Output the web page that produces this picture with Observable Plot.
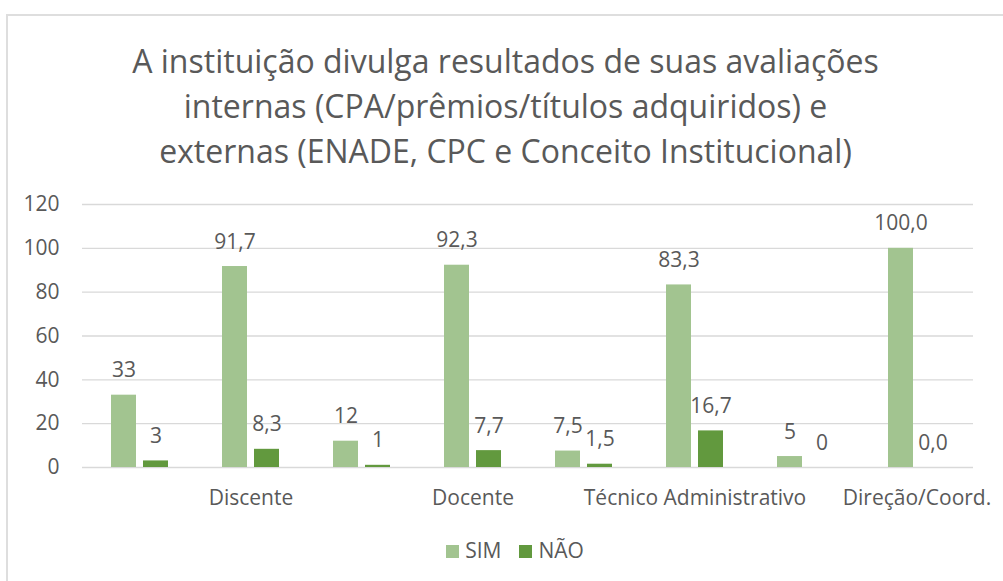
<!DOCTYPE html>
<html>
<head>
<meta charset="utf-8">
<script src="https://cdn.jsdelivr.net/npm/d3@7"></script>
<script src="https://cdn.jsdelivr.net/npm/@observablehq/plot@0.6"></script>
<style>
  html, body { margin: 0; padding: 0; background: #fff; overflow: hidden; }
  body { width: 1003px; height: 581px; position: relative; font-family: "Open Sans", sans-serif; color: #595959; }
  #frame { position: absolute; left: 6px; top: 14px; width: 1100px; height: 700px; border-left: 2px solid #dedede; border-top: 2px solid #dedede; }
  #title { position: absolute; left: 0; top: 38px; width: 1011px; text-align: center; font-size: 32px; line-height: 45px; }
  .layer { position: absolute; left: 0; top: 185px; }
  #legend { position: absolute; left: 0; top: 540px; width: 1030px; display: flex; justify-content: center; gap: 18px; font-size: 21px; line-height: 21px; }
  .item { display: flex; align-items: center; gap: 6px; }
  .sw { width: 13px; height: 13px; display: inline-block; position: relative; top: 1px; }
</style>
</head>
<body>
<div id="frame"></div>
<div id="title">A instituição divulga resultados de suas avaliações<br>internas (CPA/prêmios/títulos adquiridos) e<br>externas (ENADE, CPC e Conceito Institucional)</div>
<div id="bg" class="layer"></div>
<div id="fg" class="layer"></div>
<div id="legend"></div>
<script>
// ---- data ----
const categoryLabels = ["", "Discente", "", "Docente", "", "Técnico Administrativo", "", "Direção/Coord."];
const series = ["SIM", "NÃO"];
const simValues = [33, 91.7, 12, 92.3, 7.5, 83.3, 5, 100.0];
const naoValues = [3, 8.3, 1, 7.7, 1.5, 16.7, 0, 0.0];
const simLabels = ["33", "91,7", "12", "92,3", "7,5", "83,3", "5", "100,0"];
const naoLabels = ["3", "8,3", "1", "7,7", "1,5", "16,7", "0", "0,0"];
const yTicks = [0, 20, 40, 60, 80, 100, 120];
const colors = ["#a2c490", "#62993e"];

const rows = [];
categoryLabels.forEach((_, i) => {
  rows.push({cat: i, series: "SIM", value: simValues[i], label: simLabels[i]});
  rows.push({cat: i, series: "NÃO", value: naoValues[i], label: naoLabels[i]});
});

const W = 1003, H = 327, ML = 82, MR = 30, MT = 19, MB = 45;
const baseStyle = {fontFamily: "Open Sans", fontSize: "21px", color: "#595959", background: "transparent"};

// background: gridlines + y axis
const bg = Plot.plot({
  width: W, height: H, marginLeft: ML, marginRight: MR, marginTop: MT, marginBottom: MB,
  style: baseStyle,
  x: {axis: null},
  y: {domain: [0, 120], ticks: yTicks, tickSize: 0, tickPadding: 23, label: null},
  marks: [
    Plot.ruleY(yTicks, {stroke: "#d9d9d9", strokeWidth: 1.3})
  ]
});
document.getElementById("bg").append(bg);

// foreground: grouped bars
const fg = Plot.plot({
  width: W, height: H, marginLeft: ML, marginRight: MR, marginTop: MT, marginBottom: MB,
  style: baseStyle,
  fx: {domain: d3.range(categoryLabels.length), paddingInner: 0.49, paddingOuter: 0.245,
       tickFormat: i => categoryLabels[i], tickSize: 0, tickPadding: 23, label: null, axis: "bottom"},
  x: {domain: series, paddingInner: 0.22, paddingOuter: 0, axis: null},
  y: {domain: [0, 120], axis: null},
  color: {domain: series, range: colors},
  marks: [
    Plot.barY(rows, {fx: "cat", x: "series", y: "value", fill: "series"}),
    Plot.text(rows, {fx: "cat", x: "series", y: "value", text: "label", lineAnchor: "bottom", dy: -18})
  ]
});
document.getElementById("fg").append(fg);

// legend
const legend = document.getElementById("legend");
series.forEach((s, i) => {
  const item = document.createElement("span");
  item.className = "item";
  const sw = document.createElement("span");
  sw.className = "sw";
  sw.style.background = colors[i];
  const t = document.createElement("span");
  t.textContent = s;
  item.append(sw, t);
  legend.append(item);
});
</script>
</body>
</html>
